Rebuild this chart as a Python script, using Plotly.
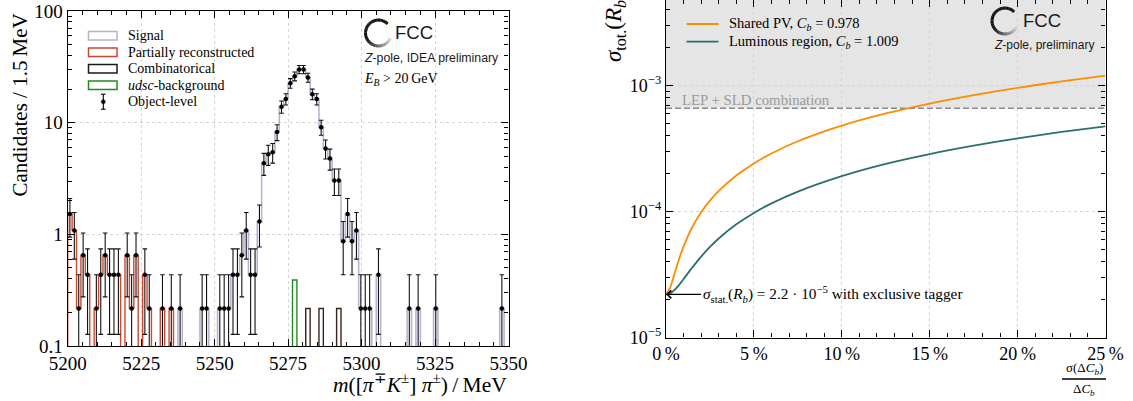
import numpy as np
import plotly.graph_objects as go

W, H = 1133, 401
SERIF = "Liberation Serif"
SANS = "Liberation Sans"

# ---------------- left panel: m([pi K] pi) spectrum ----------------
mass_lo, mass_hi, bin_width, n_bins = 5200.0, 5350.0, 1.5, 100
event_weight = 0.217  # candidates per selected event
mass_ticks = [5200, 5225, 5250, 5275, 5300, 5325, 5350]

object_level_counts = [
    7, 5, 1, 3, 2, 0, 1, 2, 3, 2,
    2, 2, 0, 3, 1, 3, 0, 2, 1, 0,
    0, 1, 0, 1, 0, 1, 0, 0, 0, 0,
    1, 1, 0, 0, 1, 1, 1, 2, 2, 3,
    5, 2, 2, 6, 20, 24, 25, 38, 64, 75,
    104, 120, 138, 138, 117, 83, 75, 42, 27, 22,
    14, 14, 4, 7, 4, 5, 1, 1, 1, 0,
    2, 0, 0, 0, 0, 0, 0, 1, 0, 1,
    0, 0, 0, 1, 0, 0, 0, 0, 0, 0,
    0, 0, 0, 0, 0, 0, 0, 0, 1, 0]

signal_counts = [
    0, 0, 0, 0, 0, 0, 0, 0, 0, 0,
    0, 0, 0, 0, 0, 0, 0, 0, 0, 0,
    0, 0, 0, 0, 0, 1, 0, 0, 0, 0,
    1, 1, 0, 0, 1, 1, 1, 2, 2, 3,
    5, 2, 2, 6, 20, 24, 25, 38, 64, 75,
    104, 118, 138, 138, 116, 83, 75, 41, 27, 22,
    14, 13, 4, 7, 4, 5, 1, 1, 1, 0,
    2, 0, 0, 0, 0, 0, 0, 1, 0, 1,
    0, 0, 0, 1, 0, 0, 0, 0, 0, 0,
    0, 0, 0, 0, 0, 0, 0, 0, 1, 0]

partreco_counts = [7, 5, 1, 3, 2, 0, 1, 2, 3, 2,
                   2, 2, 0, 3, 1, 3, 0, 2, 1, 0,
                   0, 1, 0, 1]          # bins 0..23

combinatorial_bins = [54, 57, 61]
combinatorial_vals = [0.217, 0.217, 0.217]
udsc_bins = [51]
udsc_vals = [0.39]

# ---------------- right panel: sigma_tot(R_b) vs sigma(dC_b)/dC_b ----------------
rel_unc_pct = [0, 0.25, 0.5, 0.75, 1, 1.5, 2, 2.5, 3, 4, 5, 6, 7.5,
               10, 12.5, 15, 17.5, 20, 22.5, 25]
sigma_shared_pv = [2.2e-5, 2.51e-5, 3.26e-5, 4.22e-5, 5.28e-5, 7.53e-5, 9.85e-5,
                   1.22e-4, 1.457e-4, 1.93e-4, 2.41e-4, 2.89e-4, 3.61e-4,
                   4.80e-4, 6.00e-4, 7.20e-4, 8.40e-4, 9.60e-4, 1.08e-3, 1.20e-3]
sigma_lumi_region = [2.2e-5, 2.25e-5, 2.40e-5, 2.62e-5, 2.91e-5, 3.60e-5, 4.39e-5,
                     5.23e-5, 6.11e-5, 7.91e-5, 9.75e-5, 1.16e-4, 1.44e-4,
                     1.91e-4, 2.39e-4, 2.86e-4, 3.33e-4, 3.81e-4, 4.28e-4, 4.75e-4]
lep_sld_sigma = 6.6e-4
sigma_stat = 2.2e-5
pct_ticks = [0, 5, 10, 15, 20, 25]

# ---------------- colours ----------------
C_SIG = "#b9b3d1"
C_PRC = "#d2452f"
C_COMB = "#1a1a1a"
C_UDSC = "#1f8a1f"
C_ORANGE = "#ff8c00"
C_TEAL = "#2b6f6d"


def PX(x):
    return x / W


def PY(y):
    return 1 - y / H


fig = go.Figure()

# ---- histograms (stacked step outlines) ----
edges = mass_lo + bin_width * np.arange(n_bins + 1)
centers = edges[:-1] + bin_width / 2
FLOOR = 1e-3

comb = np.zeros(n_bins)
comb[combinatorial_bins] = combinatorial_vals
udsc = np.zeros(n_bins)
udsc[udsc_bins] = udsc_vals
prc = np.zeros(n_bins)
prc[:len(partreco_counts)] = np.array(partreco_counts) * event_weight
sig = np.array(signal_counts) * event_weight

lvl_comb = comb
lvl_udsc = lvl_comb + udsc
lvl_prc = lvl_udsc + prc
lvl_sig = lvl_prc + sig


def step_trace(level, comp, color, width):
    v = np.where(comp > 0, level, FLOOR)
    xs = np.concatenate([[edges[0]], edges[:-1], [edges[-1]]])
    ys = np.concatenate([[FLOOR], v, [FLOOR]])
    return go.Scatter(x=xs, y=ys, mode="lines", line=dict(color=color, width=width, shape="hv"),
                      xaxis="x", yaxis="y", hoverinfo="skip", showlegend=False)


fig.add_trace(step_trace(lvl_sig, sig, C_SIG, 1.6))
fig.add_trace(step_trace(lvl_prc, prc, C_PRC, 1.4))
fig.add_trace(step_trace(lvl_udsc, udsc, C_UDSC, 1.4))
fig.add_trace(step_trace(lvl_comb, comb, "#3a2418", 1.4))

# ---- object-level points ----
cnt = np.array(object_level_counts, dtype=float)
m = cnt > 0
yv = cnt[m] * event_weight
err = np.sqrt(cnt[m]) * event_weight
errm = np.minimum(err, 0.995 * yv)
fig.add_trace(go.Scatter(
    x=centers[m], y=yv, mode="markers",
    marker=dict(color="black", size=4.5),
    error_y=dict(type="data", array=err, arrayminus=errm, color="#111111", thickness=1.1, width=2.3),
    xaxis="x", yaxis="y", showlegend=False, hoverinfo="skip"))

# ---- right panel curves ----
fig.add_trace(go.Scatter(x=[0, 25], y=[lep_sld_sigma, lep_sld_sigma], mode="lines",
                         line=dict(color="#8a8a8a", width=1.5, dash="6px,3px"),
                         xaxis="x2", yaxis="y2", showlegend=False, hoverinfo="skip"))
fig.add_trace(go.Scatter(x=rel_unc_pct, y=sigma_lumi_region, mode="lines",
                         line=dict(color=C_TEAL, width=1.8, shape="spline", smoothing=0.6),
                         xaxis="x2", yaxis="y2", showlegend=False, hoverinfo="skip"))
fig.add_trace(go.Scatter(x=rel_unc_pct, y=sigma_shared_pv, mode="lines",
                         line=dict(color=C_ORANGE, width=1.8, shape="spline", smoothing=0.6),
                         xaxis="x2", yaxis="y2", showlegend=False, hoverinfo="skip"))

# ---------------- axes ----------------
common = dict(showline=True, linecolor="black", linewidth=1.3, mirror="allticks",
              ticks="inside", ticklen=7, tickwidth=1.1, tickcolor="black", automargin=False,
              showgrid=True, gridcolor="#d4d4d4", griddash="dot", gridwidth=1,
              zeroline=False, tickfont=dict(family=SERIF, size=19, color="black"))

minor_log_left = [k * 10.0 ** e for e in (-1, 0, 1) for k in range(2, 10)]
minor_log_right = [k * 10.0 ** e for e in (-5, -4, -3) for k in range(2, 10)]

y2_top = -2.321

fig.update_layout(
    template="none",
    width=W, height=H,
    margin=dict(l=0, r=0, t=0, b=0, autoexpand=False),
    paper_bgcolor="white", plot_bgcolor="white",
    showlegend=False,
    font=dict(family=SERIF, color="black"),
    xaxis=dict(common, domain=[PX(67.7), PX(508.5)], range=[mass_lo, mass_hi],
               tickmode="array", tickvals=mass_ticks, anchor="y",
               minor=dict(ticks="inside", ticklen=4, tickwidth=1, tickcolor="black",
                          tickvals=list(range(5200, 5351, 5)), showgrid=False)),
    yaxis=dict(common, type="log", domain=[PY(346), PY(11)], range=[-1, 2], anchor="x",
               tickmode="array", tickvals=[0.1, 1, 10, 100], ticktext=["0.1", "1", "10", "100"],
               minor=dict(ticks="inside", ticklen=4, tickwidth=1, tickcolor="black",
                          tickvals=minor_log_left, showgrid=False)),
    xaxis2=dict(common, domain=[PX(666), PX(1105.5)], range=[0, 25], anchor="y2",
                tickmode="array", tickvals=pct_ticks,
                ticktext=[f"{v}\u2009%" for v in pct_ticks],
                tickfont=dict(family=SERIF, size=18, color="black"),
                minor=dict(ticks="inside", ticklen=4, tickwidth=1, tickcolor="black",
                           tickvals=list(range(0, 26)), showgrid=False)),
    yaxis2=dict(common, type="log", domain=[PY(337.5), 1.0], range=[-5, y2_top], anchor="x2",
                tickmode="array", tickvals=[1e-5, 1e-4, 1e-3],
                ticktext=["10<sup>\u22125</sup>", "10<sup>\u22124</sup>", "10<sup>\u22123</sup>"],
                tickfont=dict(family=SERIF, size=18, color="black"),
                minor=dict(ticks="inside", ticklen=4, tickwidth=1, tickcolor="black",
                           tickvals=minor_log_right, showgrid=False)),
)

shapes = []
annotations = []

# grey excluded band (above LEP+SLD)
shapes.append(dict(type="rect", xref="x2", yref="y2", x0=0, x1=25, y0=lep_sld_sigma,
                   y1=10 ** y2_top, fillcolor="#e5e5e5", line=dict(width=0), layer="below"))


def ann(text, x, y, size, xanchor="left", yanchor="middle", color="black", family=SERIF, angle=0):
    annotations.append(dict(xref="paper", yref="paper", x=PX(x), y=PY(y), text=text,
                            showarrow=False, xanchor=xanchor, yanchor=yanchor, textangle=angle,
                            font=dict(family=family, size=size, color=color)))


# ---- left legend ----
leg_items = [("Signal", C_SIG), ("Partially reconstructed", C_PRC),
             ("Combinatorical", C_COMB), ("<i>udsc</i>-background", C_UDSC)]
for i, (lab, col) in enumerate(leg_items):
    yc = 35.7 + 16.5 * i
    shapes.append(dict(type="rect", xref="paper", yref="paper",
                       x0=PX(88.5), x1=PX(117), y0=PY(yc + 4.3), y1=PY(yc - 4.3),
                       line=dict(color=col, width=1.5), fillcolor="rgba(0,0,0,0)"))
    ann(lab, 126, yc, 14)
yc = 35.7 + 16.5 * 4
shapes.append(dict(type="line", xref="paper", yref="paper", x0=PX(103.3), x1=PX(103.3),
                   y0=PY(yc - 7.5), y1=PY(yc + 7.5), line=dict(color="black", width=1.1)))
for dy in (-7.5, 7.5):
    shapes.append(dict(type="line", xref="paper", yref="paper", x0=PX(101), x1=PX(105.6),
                       y0=PY(yc + dy), y1=PY(yc + dy), line=dict(color="black", width=1.1)))
shapes.append(dict(type="circle", xref="paper", yref="paper", x0=PX(101.3), x1=PX(105.3),
                   y0=PY(yc + 2), y1=PY(yc - 2), fillcolor="black", line=dict(color="black", width=0.5)))
ann("Object-level", 126, yc, 14)


# ---- FCC logos ----
def fcc_ring(cx, cy, r):
    a_start, a_end, nseg = 45.0, 335.0, 48
    for i in range(nseg):
        a0 = np.radians(a_start + (a_end - a_start) * i / nseg)
        a1 = np.radians(a_start + (a_end - a_start) * (i + 1.15) / nseg)
        amid = a_start + (a_end - a_start) * (i + 0.5) / nseg
        t = 0.0 if amid < 215 else (amid - 215) / (a_end - 215)
        g = int(15 + t * 205)
        col = f"rgb({g},{g},{g})"
        x0, y0 = cx + r * np.cos(a0), cy - r * np.sin(a0)
        x1, y1 = cx + r * np.cos(a1), cy - r * np.sin(a1)
        shapes.append(dict(type="path", xref="paper", yref="paper",
                           path=f"M {PX(x0):.5f},{PY(y0):.5f} L {PX(x1):.5f},{PY(y1):.5f}",
                           line=dict(color=col, width=3)))


fcc_ring(378.5, 33.0, 13.0)
ann("FCC", 393, 33, 18.5, family=SANS, color="#1a1a1a")
ann("<i>Z</i>-pole, IDEA preliminary", 362, 58, 12.3, family=SANS, color="#1a1a1a")
ann("<i>E<sub>B</sub></i> > 20\u2009GeV", 362, 79, 14)

fcc_ring(1005.0, 21.0, 13.0)
ann("FCC", 1021, 21, 18.5, family=SANS, color="#1a1a1a")
ann("<i>Z</i>-pole, preliminary", 992, 45, 12, family=SANS, color="#1a1a1a")

# ---- axis titles ----
ann("Candidates / 1.5\u2009MeV", 19, 12, 21, xanchor="center", yanchor="top", angle=-90)
ann("<i>m</i>([<i>π</i><sup>∓</sup><i>K</i><sup>±</sup>] <i>π</i><sup>±</sup>)\u2009/\u2009MeV",
    509, 383, 21.5, xanchor="right")
ann("<i>σ</i><sub>tot.</sub>(<i>R<sub>b</sub></i>)", 615, 64, 23, xanchor="center",
    yanchor="bottom", angle=-90)

ann("σ(Δ<i>C<sub>b</sub></i>)", 1084, 368, 13, xanchor="center")
ann("Δ<i>C<sub>b</sub></i>", 1084, 389, 13, xanchor="center")
shapes.append(dict(type="line", xref="paper", yref="paper", x0=PX(1062), x1=PX(1106),
                   y0=PY(379), y1=PY(379), line=dict(color="black", width=1.4)))

# ---- right legend ----
shapes.append(dict(type="line", xref="paper", yref="paper", x0=PX(686.5), x1=PX(718.5),
                   y0=PY(24), y1=PY(24), line=dict(color=C_ORANGE, width=1.8)))
shapes.append(dict(type="line", xref="paper", yref="paper", x0=PX(686.5), x1=PX(718.5),
                   y0=PY(41.7), y1=PY(41.7), line=dict(color=C_TEAL, width=1.8)))
ann("Shared PV, <i>C<sub>b</sub></i> = 0.978", 727, 24, 14.5)
ann("Luminous region, <i>C<sub>b</sub></i> = 1.009", 727, 41.7, 14.5)

ann("LEP + SLD combination", 680, 100, 14.8, color="#9a9a9a")

# ---- arrow annotation ----
annotations.append(dict(
    xref="x2", yref="y2", x=0, y=float(np.log10(sigma_stat)), ax=35, ay=0,
    axref="pixel", ayref="pixel", showarrow=True, arrowhead=4, arrowsize=1.3,
    arrowwidth=1.2, arrowcolor="black", standoff=0, xanchor="left",
    text="<i>σ</i><sub>stat.</sub>(<i>R<sub>b</sub></i>) = 2.2 · 10<sup>\u22125</sup> with exclusive tagger",
    font=dict(family=SERIF, size=15.3, color="black")))

fig.update_layout(shapes=shapes, annotations=annotations)
fig.write_html("out.html", config={"displayModeBar": False},
               post_script="document.body.style.margin='0px';document.body.style.padding='0px';")
